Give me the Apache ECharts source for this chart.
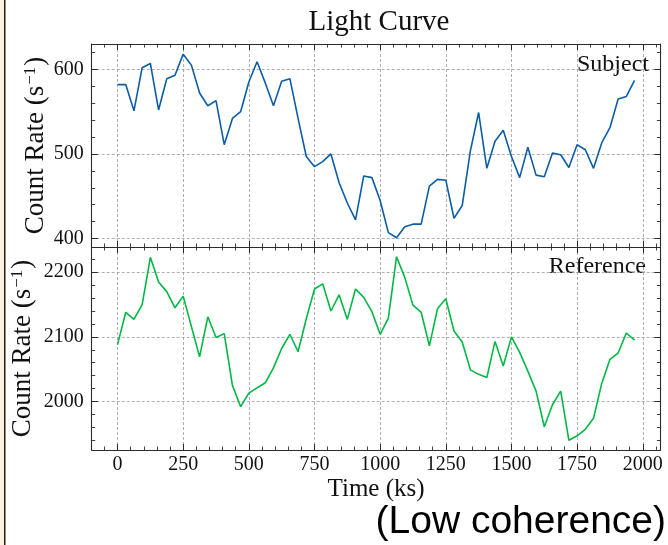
<!DOCTYPE html>
<html>
<head>
<meta charset="utf-8">
<script src="https://cdn.jsdelivr.net/npm/echarts@6/dist/echarts.min.js"></script>
<style>
html,body{margin:0;padding:0;background:#fff;}
#c{width:668px;height:545px;}
</style>
</head>
<body>
<div id="c"></div>
<script>
// ---- data ----
const times = [0,31.25,62.5,93.75,125,156.25,187.5,218.75,
  250,281.25,312.5,343.75,375,406.25,437.5,468.75,
  500,531.25,562.5,593.75,625,656.25,687.5,718.75,
  750,781.25,812.5,843.75,875,906.25,937.5,968.75,
  1000,1031.25,1062.5,1093.75,1125,1156.25,1187.5,1218.75,
  1250,1281.25,1312.5,1343.75,1375,1406.25,1437.5,1468.75,
  1500,1531.25,1562.5,1593.75,1625,1656.25,1687.5,1718.75,
  1750,1781.25,1812.5,1843.75,1875,1906.25,1937.5,1968.75];
const subjectRate = [582,582,551,602,607,552,589,593,
  618,605,572,557,563,511,542,550,
  585,609,584,557,586,589,542,497,
  485,491,500,466,442,422,474,472,
  445,407,401,414,417,417,462,470,
  469,424,439,504,549,483,515,528,
  497,472,508,475,473,501,499,484,
  511,505,483,513,531,565,568,587];
const referenceRate = [2088,2138,2127,2150,2223,2185,2170,2145,
  2163,2116,2069,2131,2099,2105,2025,1992,
  2013,2021,2029,2052,2082,2104,2077,2128,
  2174,2182,2140,2165,2127,2174,2161,2139,
  2104,2129,2224,2192,2149,2138,2086,2144,
  2159,2109,2092,2049,2042,2037,2093,2055,
  2100,2076,2047,2016,1961,1995,2016,1940,
  1947,1957,1974,2028,2065,2075,2106,2095];
const xTicks = [0,250,500,750,1000,1250,1500,1750,2000];
const subjectTicks = [400,500,600];
const referenceTicks = [2000,2100,2200];
const titleText = 'Light Curve';
const xName = 'Time (ks)';
const yName = 'Count Rate (s{sup|\u22121})';
const subjectLabel = 'Subject';
const referenceLabel = 'Reference';
const noteText = '(Low coherence)';

// ---- axis ranges ----
const XMIN = -98.4, XMAX = 2067.2;
const Y1MIN = 390, Y1MAX = 630;
const Y2MIN = 1925, Y2MAX = 2239;

function minorVals(lo, hi, step, majors){
  const out = [];
  for (let v = Math.ceil(lo/step)*step; v <= hi + 1e-9; v += step){
    if (majors.indexOf(v) < 0 && v % (step*5) !== 0) out.push(v);
  }
  return out;
}
const xMinor = minorVals(XMIN, XMAX, 50, xTicks);
const y1Minor = minorVals(Y1MIN, Y1MAX, 20, subjectTicks);
const y2Minor = minorVals(Y2MIN, Y2MAX, 20, referenceTicks);

const SERIF = '"Liberation Serif", "Times New Roman", serif';
const axisColor = '#2b2b2b';
const gridLineStyle = {color:'#9a9a9a', width:0.8, type:[3,2]};

function makeAxes(kind, gridIndex, min, max, majors, minors, opts){
  const isX = kind === 'x';
  const pos = isX ? ['bottom','top'] : ['left','right'];
  const axes = [];
  pos.forEach((p, pi) => {
    const major = {
      type:'value', gridIndex, position:p, min, max,
      axisLine:{show:true, onZero:false, lineStyle:{color:axisColor, width:1.1}},
      axisTick:{show:true, inside:true, length:6, customValues:majors, lineStyle:{color:axisColor, width:1}},
      axisLabel:{show:false},
      splitLine:{show:pi===0, lineStyle:gridLineStyle},
      minorTick:{show:false}, minorSplitLine:{show:false}
    };
    if (pi === 0 && opts.labels){
      major.axisLabel = {show:true, customValues:majors, fontFamily:SERIF, fontSize:20, color:'#111',
        margin: isX ? 5 : 8, formatter:(v)=>String(v)};
    }
    if (pi === 0 && opts.name){
      major.name = opts.name;
      major.nameLocation = 'middle';
      major.nameGap = opts.nameGap;
      major.nameMoveOverlap = false;
      major.nameTextStyle = {fontFamily:SERIF, fontSize:opts.nameSize || 24, color:'#111',
        rich:{sup:{fontFamily:SERIF, fontSize:17, color:'#111', verticalAlign:'top', padding:[0,1,11,1]}}};
    }
    axes.push(major);
    axes.push({
      type:'value', gridIndex, position:p, min, max,
      axisLine:{show:false, onZero:false},
      axisTick:{show:true, inside:true, length:3.5, customValues:minors, lineStyle:{color:axisColor, width:0.9}},
      axisLabel:{show:false},
      splitLine:{show:false}
    });
  });
  return axes;
}

const xAxes = [].concat(
  makeAxes('x', 0, XMIN, XMAX, xTicks, xMinor, {labels:false}),
  makeAxes('x', 1, XMIN, XMAX, xTicks, xMinor, {labels:true, name:xName, nameGap:27, nameSize:25})
);
const yAxes = [].concat(
  makeAxes('y', 0, Y1MIN, Y1MAX, subjectTicks, y1Minor, {labels:true, name:yName, nameGap:42, nameSize:27}),
  makeAxes('y', 1, Y2MIN, Y2MAX, referenceTicks, y2Minor, {labels:true, name:yName, nameGap:55, nameSize:27})
);

const chart = echarts.init(document.getElementById('c'), null, {renderer:'canvas'});
chart.setOption({
  animation:false,
  backgroundColor:'#ffffff',
  title:{text:titleText, left:374, textAlign:'center', top:3,
    textStyle:{fontFamily:SERIF, fontSize:29, fontWeight:'normal', color:'#111'}},
  grid:[
    {left:91.7, top:44, width:568.7, height:203, containLabel:false, outerBoundsMode:'none'},
    {left:91.7, top:247, width:568.7, height:203, containLabel:false, outerBoundsMode:'none'}
  ],
  xAxis:xAxes,
  yAxis:yAxes,
  series:[
    {type:'line', xAxisIndex:0, yAxisIndex:0, showSymbol:false, symbol:'none',
      data:times.map((t,i)=>[t, subjectRate[i]]),
      lineStyle:{color:'#0C5DA5', width:1.6}},
    {type:'line', xAxisIndex:4, yAxisIndex:4, showSymbol:false, symbol:'none',
      data:times.map((t,i)=>[t, referenceRate[i]]),
      lineStyle:{color:'#00B945', width:1.6}}
  ],
  graphic:[
    {type:'rect', shape:{x:0, y:0, width:4, height:545}, style:{fill:'#fdf1e2'}, silent:true},
    {type:'rect', shape:{x:4, y:0, width:1.5, height:545}, style:{fill:'#2a1a10'}, silent:true},
    {type:'text', x:649, y:65, style:{text:subjectLabel, font:'24px ' + SERIF, fill:'#111', align:'right', verticalAlign:'middle'}},
    {type:'text', x:646, y:267, style:{text:referenceLabel, font:'24px ' + SERIF, fill:'#111', align:'right', verticalAlign:'middle'}},
    {type:'text', x:666, y:522, style:{text:noteText, font:'39px "Liberation Sans", Arial, sans-serif', fill:'#000', align:'right', verticalAlign:'middle'}}
  ]
});
</script>
</body>
</html>
